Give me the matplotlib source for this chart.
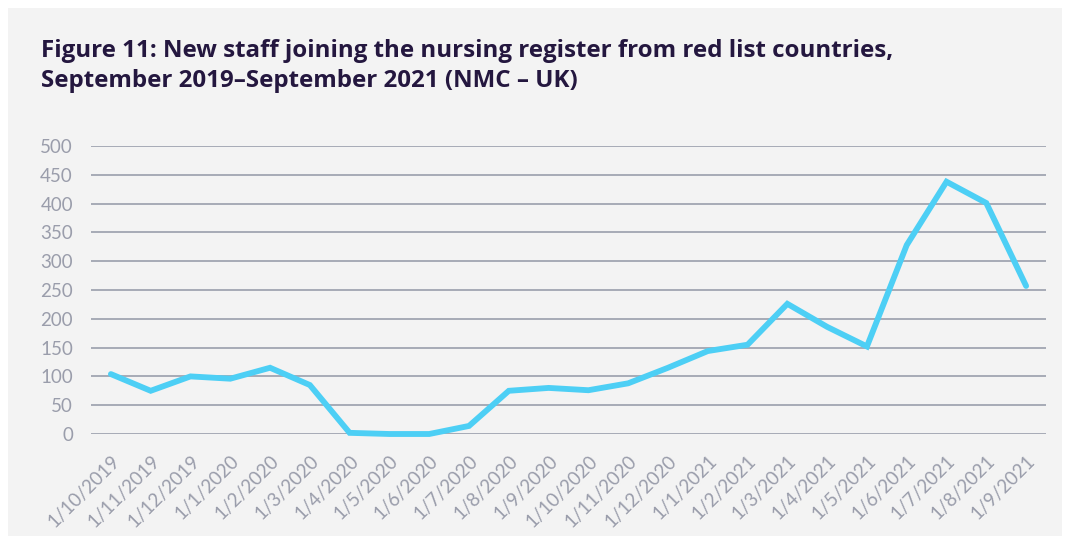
"""
Figure 11 の再現: 赤リスト国からの新規看護師登録数 (NMC - UK)
出力: out.png
"""
import matplotlib
matplotlib.use("Agg")
import matplotlib.pyplot as plt  # noqa: E402
from matplotlib.patches import Rectangle  # noqa: E402

# --- データ ---
MONTHS = [
    "1/10/2019", "1/11/2019", "1/12/2019", "1/1/2020", "1/2/2020", "1/3/2020",
    "1/4/2020", "1/5/2020", "1/6/2020", "1/7/2020", "1/8/2020", "1/9/2020",
    "1/10/2020", "1/11/2020", "1/12/2020", "1/1/2021", "1/2/2021", "1/3/2021",
    "1/4/2021", "1/5/2021", "1/6/2021", "1/7/2021", "1/8/2021", "1/9/2021",
]
JOINERS = [104, 75, 100, 96, 115, 85, 2, 0, 0, 14, 75, 80,
           76, 88, 115, 144, 155, 226, 186, 152, 328, 438, 401, 257]
Y_TICKS = list(range(0, 501, 50))

TITLE = ("Figure 11: New staff joining the nursing register from red list countries,\n"
         "September 2019\u2013September 2021 (NMC \u2013 UK)")

BG = "#f3f3f3"
LINE_C = "#4dcff5"
GRID_C = "#9a9eab"
TICK_C = "#9a9dab"
TITLE_C = "#24173f"

plt.rcParams["font.family"] = ["Lato", "DejaVu Sans"]


def main() -> None:
    fig = plt.figure(figsize=(10.65, 5.36), dpi=100)
    fig.patch.set_facecolor("white")
    # 灰色のパネル
    fig.patches.append(Rectangle((8 / 1065, 0), 1054 / 1065, 1 - 8 / 536,
                                 transform=fig.transFigure, facecolor=BG,
                                 edgecolor="none", zorder=-10))

    ax = fig.add_axes([91 / 1065, 1 - 434 / 536, 955 / 1065, 288 / 536])
    ax.set_facecolor(BG)
    ax.patch.set_alpha(0)

    x = list(range(len(MONTHS)))
    ax.plot(x, JOINERS, color=LINE_C, lw=4.2, solid_joinstyle="miter",
            solid_capstyle="round", zorder=3, clip_on=False)

    ax.set_xlim(-0.5, len(MONTHS) - 0.5)
    ax.set_ylim(0, 500)
    ax.set_yticks(Y_TICKS)
    ax.set_xticks(x)
    ax.set_xticklabels(MONTHS, rotation=45, ha="right", rotation_mode="anchor")
    ax.tick_params(axis="both", length=0, labelsize=13.5, labelcolor=TICK_C)
    ax.tick_params(axis="y", pad=13)
    ax.tick_params(axis="x", pad=13)

    ax.grid(axis="y", color=GRID_C, lw=1.2)
    ax.set_axisbelow(True)
    for s in ax.spines.values():
        s.set_visible(False)

    fig.text(41 / 1065, 1 - 39 / 536, TITLE, ha="left", va="top",
             fontsize=17.4, fontweight="bold", color=TITLE_C, linespacing=1.32,
             family=["Open Sans", "DejaVu Sans"])

    fig.savefig("out.png", dpi=100)


if __name__ == "__main__":
    main()
